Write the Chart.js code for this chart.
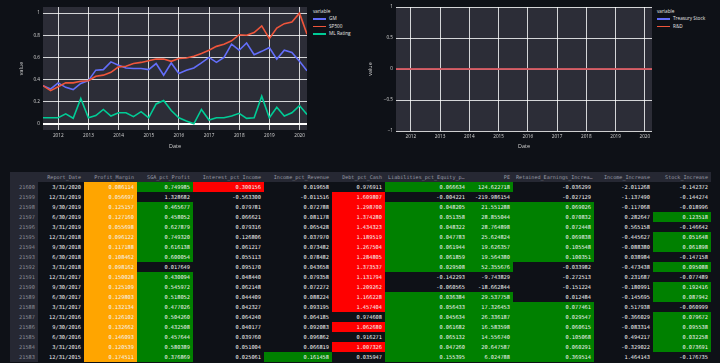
<!DOCTYPE html>
<html><head><meta charset="utf-8">
<script src="https://cdn.jsdelivr.net/npm/chart.js@4.4.1/dist/chart.umd.min.js"></script>
<style>
html,body{margin:0;padding:0;background:#0e1117;width:720px;height:363px;overflow:hidden;position:relative;}
canvas{position:absolute;}
.legend{position:absolute;font-family:'Open Sans',sans-serif;font-size:4.7px;color:#e6e6e6;line-height:7.4px;}
.legend .item{display:flex;align-items:center;height:7.4px;white-space:nowrap;padding-left:2px}
.legend .sw{display:inline-block;width:13px;height:1.5px;margin-right:3px}
#tbl{position:absolute;left:10px;top:172px;border-collapse:collapse;table-layout:fixed;font-family:'DejaVu Sans Mono',monospace;font-size:5.3px;color:#f4f4f4;}
#tbl td,#tbl th{height:10px;padding:0 3px 0 0;text-align:right;white-space:nowrap;overflow:hidden;line-height:10px;box-sizing:border-box;font-weight:normal}
#tbl th{background:#262833;color:#9a9ca6;font-size:5.1px}
#tbl th.left{text-align:left;padding:0 0 0 3px}
#tbl td.idx{background:#262833;color:#8a8c95}
#tbl td{background:#0e1117}
</style>
</head><body>
<canvas id="c1" width="310" height="150" style="left:0;top:0"></canvas>
<canvas id="c2" width="295" height="150" style="left:360px;top:0"></canvas>
<div class="legend" id="lg1" style="left:311px;top:8px"></div>
<div class="legend" id="lg2" style="left:655px;top:8px"></div>
<table id="tbl"></table>
<script>
// ---------- chart data ----------
const dates = ['2011-06-30','2011-09-30','2011-12-31',
 '2012-03-31','2012-06-30','2012-09-30','2012-12-31',
 '2013-03-31','2013-06-30','2013-09-30','2013-12-31',
 '2014-03-31','2014-06-30','2014-09-30','2014-12-31',
 '2015-03-31','2015-06-30','2015-09-30','2015-12-31',
 '2016-03-31','2016-06-30','2016-09-30','2016-12-31',
 '2017-03-31','2017-06-30','2017-09-30','2017-12-31',
 '2018-03-31','2018-06-30','2018-09-30','2018-12-31',
 '2019-03-31','2019-06-30','2019-09-30','2019-12-31',
 '2020-03-31'];
const gm = [0.345,0.315,0.37,
 0.33,0.31,0.365,0.39,
 0.485,0.49,0.56,0.53,
 0.505,0.50,0.50,0.49,
 0.545,0.44,0.55,0.455,
 0.485,0.505,0.55,0.60,
 0.555,0.60,0.72,0.665,
 0.73,0.625,0.655,0.69,
 0.585,0.665,0.645,0.565,
 0.48];
const sp500 = [0.345,0.30,0.335,
 0.37,0.37,0.385,0.39,
 0.43,0.44,0.465,0.515,
 0.52,0.545,0.555,0.57,
 0.585,0.585,0.565,0.59,
 0.595,0.61,0.635,0.665,
 0.70,0.72,0.75,0.805,
 0.80,0.825,0.885,0.77,
 0.865,0.905,0.92,1.0,
 0.81];
const mlRating = [0.055,0.055,0.055,
 0.09,0.05,0.23,0.055,
 0.075,0.13,0.07,0.10,
 0.10,0.065,0.11,0.055,
 0.18,0.21,0.12,0.055,
 0.025,0.0,0.13,0.035,
 0.055,0.055,0.07,0.095,
 0.05,0.055,0.25,0.055,
 0.15,0.07,0.10,0.165,
 0.085];
const treasuryStock = [0,0,0,0,0,0,0,0,0,0,0,0,0,0,0,0,0,0,0,0,0,0,0,0,0,0,0,0,0,0,0,0,0,0,0,0];
const rnd = [0,0,0,0,0,0,0,0,0,0,0,0,0,0,0,0,0,0,0,0,0,0,0,0,0,0,0,0,0,0,0,0,0,0,0,0];
const yearTicks = [2012,2013,2014,2015,2016,2017,2018,2019,2020];
const leftYTicks = [0,0.2,0.4,0.6,0.8,1];
const rightYTicks = [-1,-0.5,0,0.5,1];

// ---------- table data ----------
const columns = ['','Report_Date','Profit_Margin','SGA_pct_Profit','Interest_pct_Income','Income_pct_Revenue','Debt_pct_Cash','Liabilities_pct_Equity_p\u2026','PE','Retained_Earnings_Increa\u2026','Income_Increase','Stock_Increase'];
const rowIndex = [21600,21599,21598,21597,21596,21595,21594,21593,21592,21591,21590,21589,21588,21587,21586,21585,21584,21583];
const reportDate = ['3/31/2020','12/31/2019','9/30/2019','6/30/2019','3/31/2019','12/31/2018','9/30/2018','6/30/2018','3/31/2018','12/31/2017','9/30/2017','6/30/2017','3/31/2017','12/31/2016','9/30/2016','6/30/2016','3/31/2016','12/31/2015'];
const profitMargin = [0.086114,0.056697,0.125157,0.127160,0.055698,0.096122,0.117188,0.108462,0.098162,0.150028,0.125109,0.129803,0.132134,0.126102,0.132662,0.146093,0.120539,0.174511];
const sgaPctProfit = [0.749985,1.328682,0.465677,0.458052,0.627879,0.749320,0.616138,0.600054,0.017649,0.430094,0.545972,0.518052,0.477026,0.504260,0.432508,0.457644,0.580389,0.376869];
const interestPctIncome = [0.300156,-0.563300,0.079781,0.066621,0.079316,0.126806,0.061217,0.055113,0.095170,0.048440,0.062148,0.044409,0.042327,0.064240,0.040177,0.039760,0.051004,0.025061];
const incomePctRevenue = [0.019658,-0.011516,0.072788,0.081178,0.065428,0.037970,0.073482,0.078482,0.043658,0.079358,0.072272,0.088224,0.093195,0.064185,0.092083,0.096862,0.066819,0.161458];
const debtPctCash = [0.976911,1.609807,1.298700,1.374280,1.434323,1.189519,1.267504,1.284805,1.373537,1.131794,1.209262,1.166228,1.457404,0.974608,1.062680,0.916271,1.007326,0.035947];
const liabilitiesPctEquity = [0.066634,-0.004221,0.048205,0.051358,0.048322,0.047783,0.061944,0.061859,0.029508,-0.142293,-0.060565,0.036384,0.056433,0.045634,0.061682,0.065132,0.047260,0.155395];
const pe = [124.622718,-219.986154,21.551288,28.855044,28.764898,25.624824,19.626357,19.564380,52.355676,-9.743829,-18.662844,29.537758,17.326453,26.336187,16.583598,14.556740,20.647587,6.024788];
const retainedEarningsIncrease = [-0.036299,-0.027129,0.069026,0.070832,0.072448,0.069838,0.105548,0.100351,-0.033982,-0.272513,-0.151224,0.012484,0.077461,0.029547,0.060615,0.105068,0.060291,0.369514];
const incomeIncrease = [-2.011268,-1.137490,-0.117068,0.282647,0.565158,-0.445627,-0.088380,0.038984,-0.473438,0.231687,-0.180991,-0.145695,0.517938,-0.366029,-0.083314,0.494217,-0.329022,1.464143];
const stockIncrease = [-0.142372,-0.144274,-0.018996,0.123518,-0.146642,0.051648,0.061898,-0.147158,0.095088,-0.077489,0.192416,0.087942,-0.060999,0.079672,0.095538,0.032258,0.073691,-0.176735];

// ---------- helpers ----------
function decYear(s){const [y,m,d]=s.split('-').map(Number);const t=Date.UTC(y,m-1,d),a=Date.UTC(y,0,1),b=Date.UTC(y+1,0,1);return y+(t-a)/(b-a);}
const xs = dates.map(decYear);
const pts = arr => arr.map((v,i)=>({x:xs[i],y:v}));
const plotBg={id:'plotBg',beforeDraw(c){const {ctx,chartArea:a}=c;ctx.save();ctx.fillStyle='#2c2d37';ctx.fillRect(a.left,a.top,a.width,a.height);ctx.restore();}};
const FONT="'Open Sans', sans-serif";
const fmtY = v => { let s = String(+Number(v).toFixed(2)); return s.replace('-','\u2212'); };
const GRID='rgba(255,255,255,0.8)';

function makeChart(id, series, yMin, yMax, yTicks, yW, xH, pad, zeroBold){
  const n=series.length;
  return new Chart(document.getElementById(id), {
    type:'line',
    data:{datasets: series.map((s,i)=>({label:s.label,data:pts(s.data),borderColor:s.color,backgroundColor:s.color,borderWidth:1.6,pointRadius:0,tension:0,fill:false,order:n-i}))},
    options:{
      responsive:false, animation:false, devicePixelRatio:1,
      layout:{padding:pad},
      plugins:{legend:{display:false},tooltip:{enabled:false}},
      scales:{
        x:{type:'linear',min:xs[0],max:xs[xs.length-1],
          afterBuildTicks:s=>{s.ticks=yearTicks.map(v=>({value:v}));},
          afterFit:s=>{s.height=xH;s.paddingLeft=0;s.paddingRight=0;},
          ticks:{callback:v=>String(v),color:'#d6d6d6',font:{family:FONT,size:4.7},padding:3,maxRotation:0,autoSkip:false},
          grid:{color:GRID,lineWidth:1,drawTicks:false},
          border:{display:false},
          title:{display:true,text:'Date',color:'#d6d6d6',font:{family:FONT,size:5.4},padding:{top:0,bottom:0}}
        },
        y:{type:'linear',min:yMin,max:yMax,
          afterBuildTicks:s=>{s.ticks=yTicks.map(v=>({value:v}));},
          afterFit:s=>{s.width=yW;s.paddingTop=0;s.paddingBottom=0;},
          ticks:{callback:v=>fmtY(v),color:'#d6d6d6',font:{family:FONT,size:4.7},padding:3,autoSkip:false},
          grid:{color:c=>(zeroBold&&c.tick&&c.tick.value===0)?'#ffffff':GRID,lineWidth:c=>(zeroBold&&c.tick&&c.tick.value===0)?2:1,drawTicks:false},
          border:{display:false},
          title:{display:true,text:'value',color:'#d6d6d6',font:{family:FONT,size:5.4},padding:{top:0,bottom:0}}
        }
      }
    },
    plugins:[plotBg]
  });
}

const leftSeries=[{label:'GM',data:gm,color:'#636efa'},{label:'SP500',data:sp500,color:'#EF553B'},{label:'ML Rating',data:mlRating,color:'#00cc96'}];
const rightSeries=[{label:'Treasury Stock',data:treasuryStock,color:'#636efa'},{label:'R&D',data:rnd,color:'#EF553B'}];
makeChart('c1', leftSeries, -0.0556, 1.0556, leftYTicks, 25, 20, {left:18,top:7,right:3,bottom:0}, true);
makeChart('c2', rightSeries, -1, 1, rightYTicks, 29, 19, {left:7,top:7,right:3,bottom:0}, false);

function buildLegend(id, series){
  const el=document.getElementById(id);
  let h='<div style="padding-left:2px">variable</div>';
  series.forEach(s=>{h+='<div class="item"><span class="sw" style="background:'+s.color+'"></span>'+s.label.replace('&','&amp;')+'</div>';});
  el.innerHTML=h;
}
buildLegend('lg1', leftSeries);
buildLegend('lg2', rightSeries);

// ---------- table ----------
const colWidths=[28,46,53,56,71,68,53,83,45,81,59,58];
const ORANGE='#ffa500', GREEN='#008000', RED='#ff0000';
const colData=[
  {v:profitMargin, rule:v=>v<0.2?ORANGE:null},
  {v:sgaPctProfit, rule:v=>(v>0.1&&v<1)?GREEN:null},
  {v:interestPctIncome, rule:v=>v>0.2?RED:null},
  {v:incomePctRevenue, rule:v=>v>0.1?GREEN:null},
  {v:debtPctCash, rule:v=>v>1?RED:null},
  {v:liabilitiesPctEquity, rule:v=>v>0?GREEN:null},
  {v:pe, rule:v=>v>0?GREEN:null},
  {v:retainedEarningsIncrease, rule:v=>v>0.02?GREEN:null},
  {v:incomeIncrease, rule:v=>null},
  {v:stockIncrease, rule:v=>v>0?GREEN:null}
];
let html='<colgroup>'+colWidths.map(w=>'<col style="width:'+w+'px">').join('')+'</colgroup>';
html+='<tr>'+columns.map((c,i)=>'<th'+((i===7||i===9)?' class="left"':'')+'>'+c+'</th>').join('')+'</tr>';
rowIndex.forEach((id,r)=>{
  html+='<tr><td class="idx">'+id+'</td><td>'+reportDate[r]+'</td>';
  colData.forEach(c=>{const v=c.v[r];const bg=c.rule(v);html+='<td'+(bg?' style="background:'+bg+'"':'')+'>'+v.toFixed(6)+'</td>';});
  html+='</tr>';
});
const tbl=document.getElementById('tbl');
tbl.innerHTML=html;
tbl.style.width=colWidths.reduce((a,b)=>a+b,0)+'px';
</script>
</body></html>
